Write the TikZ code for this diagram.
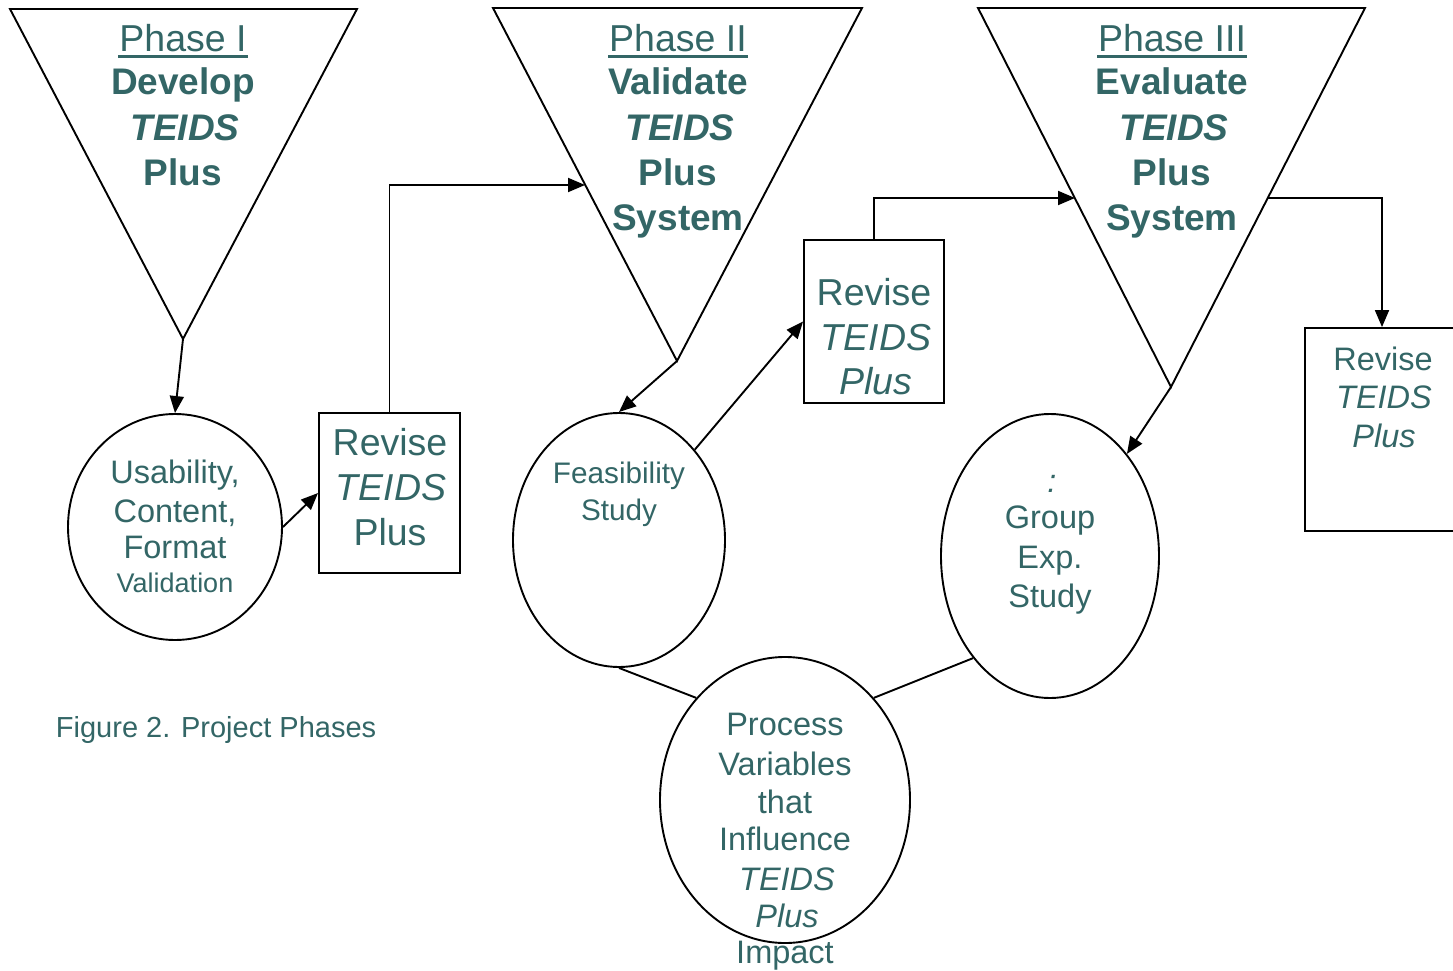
\documentclass[tikz,border=0pt]{standalone}
\usepackage{fontspec}
\setmainfont{Liberation Sans}
\usetikzlibrary{shapes.geometric,arrows.meta}
\definecolor{tealtxt}{RGB}{51,102,102}
\begin{document}
\begin{tikzpicture}[x=1pt,y=-1pt,line width=1.9pt,line join=miter,
  >={Triangle[length=17pt,width=14pt]},
  lbl/.style={anchor=base,inner sep=0pt,text=tealtxt},
  big/.style={lbl,font=\fontsize{37.5}{44}\selectfont},
  bigb/.style={lbl,font=\fontsize{37}{44}\selectfont\bfseries},
  bigbi/.style={lbl,font=\fontsize{37}{44}\selectfont\bfseries\itshape},
  bigi/.style={lbl,font=\fontsize{37.5}{44}\selectfont\itshape},
  med/.style={lbl,font=\fontsize{32.5}{38}\selectfont},
  medi/.style={lbl,font=\fontsize{32.5}{38}\selectfont\itshape},
  sml/.style={lbl,font=\fontsize{27}{32}\selectfont},
  feas/.style={lbl,font=\fontsize{29.7}{35}\selectfont},
  oval/.style={ellipse,draw,inner sep=0pt},
  boxnode/.style={rectangle,draw,inner sep=0pt},
  uline/.style={tealtxt,line width=2.3pt}]
\useasboundingbox (0,0) rectangle (1453,971);

% triangles
\coordinate (t1l) at (10,9);  \coordinate (t1r) at (357,9);  \coordinate (t1a) at (183,339);
\coordinate (t2l) at (493,8); \coordinate (t2r) at (862,8);  \coordinate (t2a) at (677,361);
\coordinate (t3l) at (978,8); \coordinate (t3r) at (1365,8); \coordinate (t3a) at (1171,387);
\draw (t1l) -- (t1r) -- (t1a) -- cycle;
\draw (t2l) -- (t2r) -- (t2a) -- cycle;
\draw (t3l) -- (t3r) -- (t3a) -- cycle;

% ovals
\node[oval,minimum width=214pt,minimum height=226pt] (c1) at (175,527) {};
\node[oval,minimum width=212pt,minimum height=254pt] (c2) at (619,540) {};
\node[oval,minimum width=218pt,minimum height=284pt] (c3) at (1050,556) {};
\node[oval,minimum width=250pt,minimum height=286pt] (c4) at (785,800) {};

% boxes
\node[boxnode,minimum width=141pt,minimum height=160pt] (r1) at (389.5,493) {};
\node[boxnode,minimum width=140pt,minimum height=163pt] (r2) at (874,321.5) {};
\node[boxnode,minimum width=154pt,minimum height=203pt] (r3) at (1382,429.5) {};

% connectors
\coordinate (t2in) at (585,185);
\coordinate (t3in) at (1075,198);
\coordinate (t3out) at (1268,198);
\draw[->] (t1a) -- (c1.north);
\draw[->] (c1.east) -- (r1.west);
\draw[->] (r1.north) |- (t2in);
\draw[->] (t2a) -- (c2.north);
\draw[->] (c2.50) -- (r2.west);
\draw[->] (r2.north) |- (t3in);
\draw[->] (t3out) -| (r3.north);
\draw[->] (t3a) -- (c3.53);
\draw (c2.south) -- (c4.131);
\draw (c3.233) -- (c4.49);

% phase I text
\node[big] (p1) at (183,52) {Phase I};
\draw[uline] ([yshift=-4.5pt]p1.base west) -- ([yshift=-4.5pt]p1.base east);
\node[bigb] (p1b) at (183,95) {Develop};
\node[bigbi] (p1c) at (185,140) {TEIDS};
\node[bigb] (p1d) at (183,185) {Plus};

% phase II text
\node[big] (p2) at (678,52) {Phase II};
\draw[uline] ([yshift=-4.5pt]p2.base west) -- ([yshift=-4.5pt]p2.base east);
\node[bigb] (p2b) at (678,95) {Validate};
\node[bigbi] (p2c) at (680,140) {TEIDS};
\node[bigb] (p2d) at (678,185) {Plus};
\node[bigb] (p2e) at (678,230) {System};

% phase III text
\node[big] (p3) at (1172,52) {Phase III};
\draw[uline] ([yshift=-4.5pt]p3.base west) -- ([yshift=-4.5pt]p3.base east);
\node[bigb] (p3b) at (1172,95) {Evaluate};
\node[bigbi] (p3c) at (1174,140) {TEIDS};
\node[bigb] (p3d) at (1172,185) {Plus};
\node[bigb] (p3e) at (1172,230) {System};

% circle 1
\node[med] (u1) at (175,483) {Usability,};
\node[med] (u2) at (175,522) {Content,};
\node[med] (u3) at (175,558) {Format};
\node[sml] (u4) at (175,592) {Validation};

% box 1
\node[big] (b1a) at (390,455) {Revise};
\node[bigi] (b1b) at (391,500) {TEIDS};
\node[big] (b1c) at (390,545) {Plus};

% box 2
\node[big] (b2a) at (874,305) {Revise};
\node[bigi] (b2b) at (876,350) {TEIDS};
\node[bigi] (b2c) at (876,394) {Plus};

% box 3
\node[med] (b3a) at (1383,370) {Revise};
\node[medi] (b3b) at (1384,408) {TEIDS};
\node[medi] (b3c) at (1384,447) {Plus};

% feasibility
\node[feas] (f1) at (619,483) {Feasibility};
\node[feas] (f2) at (619,520) {Study};

% group
\node[medi] (g0) at (1052,492) {:};
\node[med] (g1) at (1050,528) {Group};
\node[med] (g2) at (1050,568) {Exp.};
\node[med] (g3) at (1050,607) {Study};

% process
\node[med] (v1) at (785,735) {Process};
\node[med] (v2) at (785,775) {Variables};
\node[med] (v3) at (785,813) {that};
\node[med] (v4) at (785,850) {Influence};
\node[medi] (v5) at (787,890) {TEIDS};
\node[medi] (v6) at (787,927) {Plus};
\node[med] (v7) at (785,963) {Impact};

% caption
\node[lbl,anchor=base west,font=\fontsize{29}{34}\selectfont] (cap) at (55,737) {Figure 2. Project Phases};
\end{tikzpicture}
\end{document}
